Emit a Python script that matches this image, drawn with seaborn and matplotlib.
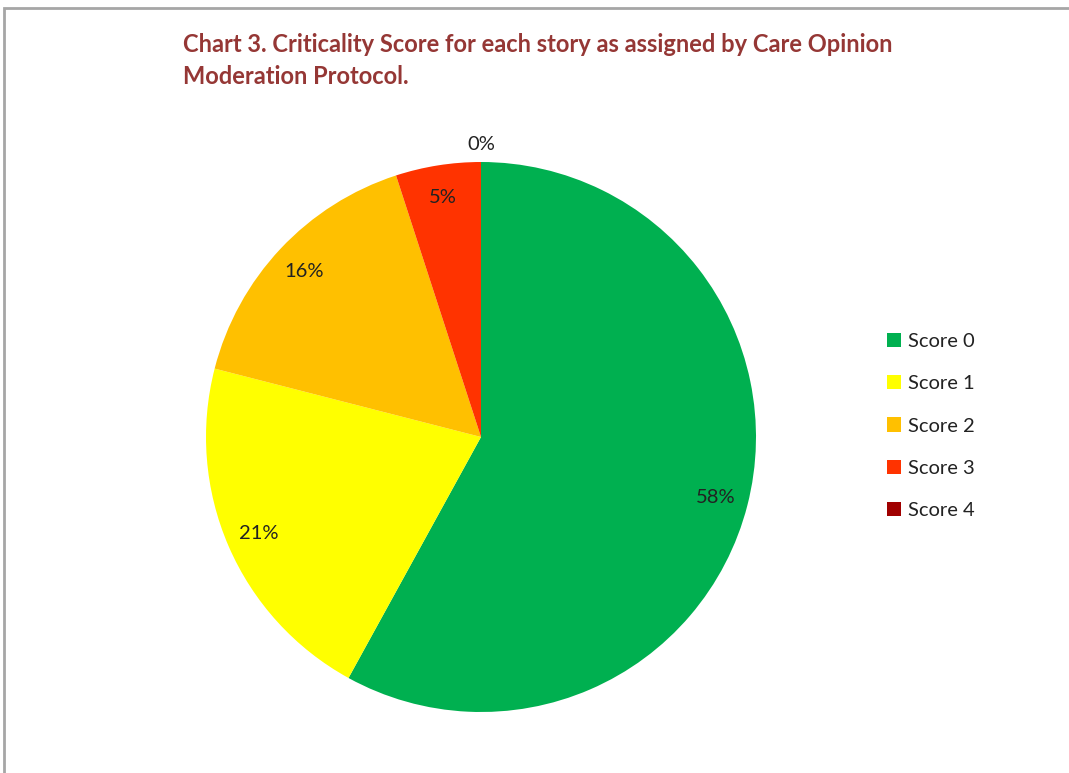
import matplotlib
matplotlib.use("Agg")
import matplotlib.pyplot as plt
from matplotlib.patches import Rectangle
import numpy as np
import seaborn as sns

categories = ["Score 0", "Score 1", "Score 2", "Score 3", "Score 4"]
percentages = [58, 21, 16, 5, 0]
slice_colors = ["#00b050", "#ffff00", "#ffc000", "#ff3300", "#a00000"]
title_lines = ["Chart 3. Criticality Score for each story as assigned by Care Opinion",
               "Moderation Protocol."]

sns.set_theme(style="white")
plt.rcParams["font.family"] = ["Lato", "DejaVu Sans"]

W, H = 1069, 773
fig = plt.figure(figsize=(W / 100, H / 100), dpi=100)
fig.patch.set_facecolor("white")

# chart frame (top and left edges visible)
fig.add_artist(Rectangle((4 / W, -0.05), 1.2, (H - 8) / H + 0.05,
                         transform=fig.transFigure, fill=False,
                         edgecolor="#a6a6a6", linewidth=2))

cx, cy, r = 481, 437, 275
ax = fig.add_axes([(cx - r) / W, (H - cy - r) / H, 2 * r / W, 2 * r / H])

wedges, texts, autotexts = ax.pie(
    percentages, colors=slice_colors, startangle=90, counterclock=False,
    radius=1.0, autopct=lambda p: f"{p:.0f}%", pctdistance=0.88,
    wedgeprops=dict(linewidth=0),
    textprops=dict(fontsize=14.5, color="#222222"))
ax.set_xlim(-1, 1)
ax.set_ylim(-1, 1)
ax.set_aspect("equal")
ax.axis("off")

# zero-sized slice label sits just outside the rim
for val, t in zip(percentages, autotexts):
    if val == 0:
        t.set_position((0, 1.065))

for i, line in enumerate(title_lines):
    fig.text(183 / W, 1 - (45 + 32 * i) / H, line, fontsize=17, fontweight="bold",
             color="#953735", ha="left", va="center")

fig.legend(wedges, categories, loc="center left",
           bbox_to_anchor=(869 / W, 1 - 426 / H), frameon=False,
           fontsize=14.5, handlelength=0.7, handleheight=0.7, handletextpad=0.35,
           labelspacing=1.26, labelcolor="#222222")

fig.savefig("out.png", dpi=100, facecolor="white")
